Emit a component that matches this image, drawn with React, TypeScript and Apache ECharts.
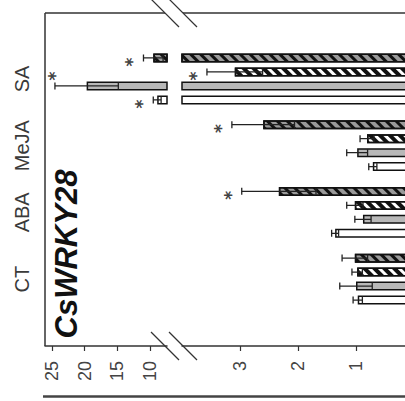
import React, { useEffect, useRef } from "react";
import * as echarts from "echarts";

// Categories bottom -> top
const categories = ["CT", "ABA", "MeJA", "SA"];

// Series values per category [CT, ABA, MeJA, SA]
const darkHatched = [1.02, 2.33, 2.6, 9.5];
const darkHatchedErr = [0.22, 0.64, 0.54, 1.5];
const darkHatchedStar = [0, 1, 1, 1];

const whiteHatched = [0.98, 1.02, 0.81, 3.09];
const whiteHatchedErr = [0.09, 0.14, 0.12, 0.48];
const whiteHatchedStar = [0, 0, 0, 1];

const grayBar = [1.0, 0.88, 0.98, 19.7];
const grayBarErr = [0.28, 0.14, 0.18, 4.85];
const grayBarStar = [0, 0, 0, 1];

const whiteBar = [0.97, 1.36, 0.71, 8.9];
const whiteBarErr = [0.08, 0.06, 0.07, 0.6];
const whiteBarStar = [0, 0, 0, 1];

const upperTicks = [10, 15, 20, 25];
const lowerTicks = [0, 1, 2, 3];
const title = "CsWRKY28";

const FONT = "Liberation Sans, Arial, sans-serif";

export default function App() {
  const ref = useRef<HTMLDivElement>(null);
  useEffect(() => {
    document.body.style.margin = "0";
    const chart = echarts.init(ref.current!, null, { renderer: "svg" });

    const barW = 9;
    const OFF = [-21, -7, 7, 21];
    const gridTop = 45.6;
    const gridH = 266.8;
    const axisY = 346;
    const axisOffset = axisY - (gridTop + gridH);

    const defs = [
      {
        name: "dark",
        data: darkHatched,
        err: darkHatchedErr,
        star: darkHatchedStar,
        itemStyle: {
          color: "#9a9a9a",
          borderColor: "#111",
          borderWidth: 1.5,
          decal: {
            symbol: "rect",
            symbolSize: 1,
            color: "#111",
            dashArrayX: [1, 0],
            dashArrayY: [3, 4],
            rotation: Math.PI / 4,
          },
        },
      },
      {
        name: "whiteHatched",
        data: whiteHatched,
        err: whiteHatchedErr,
        star: whiteHatchedStar,
        itemStyle: {
          color: "#ffffff",
          borderColor: "#111",
          borderWidth: 1.5,
          decal: {
            symbol: "rect",
            symbolSize: 1,
            color: "#111",
            dashArrayX: [1, 0],
            dashArrayY: [4, 3],
            rotation: Math.PI / 4,
          },
        },
      },
      {
        name: "gray",
        data: grayBar,
        err: grayBarErr,
        star: grayBarStar,
        itemStyle: { color: "#b8b8b8", borderColor: "#111", borderWidth: 1.5 },
      },
      {
        name: "white",
        data: whiteBar,
        err: whiteBarErr,
        star: whiteBarStar,
        itemStyle: { color: "#ffffff", borderColor: "#111", borderWidth: 1.5 },
      },
    ];

    const series: any[] = [];
    [0, 1].forEach((g) => {
      defs.forEach((d) => {
        series.push({
          type: "bar",
          name: d.name,
          xAxisIndex: g,
          yAxisIndex: g,
          data: d.data,
          barWidth: barW,
          barGap: "55%",
          itemStyle: d.itemStyle,
          clip: true,
        });
      });
      defs.forEach((d, si) => {
        series.push({
          type: "custom",
          xAxisIndex: g,
          yAxisIndex: g,
          clip: true,
          z: 10,
          encode: { x: 1, y: 0 },
          data: d.data.map((v, i) => [i, v, d.err[i], d.star[i]]),
          renderItem: (params: any, api: any) => {
            const cat = api.value(0);
            const v = api.value(1);
            const e = api.value(2);
            const s = api.value(3);
            const cs = params.coordSys;
            const left = cs.x;
            const right = cs.x + cs.width;
            const c = api.coord([v, cat]);
            const y = c[1] + OFF[si];
            const hi = api.coord([v + e, cat])[0];
            const lo = api.coord([v - e, cat])[0];
            if (Math.max(hi, lo) < left || Math.min(hi, lo) > right) return null;
            const cap = 3.5;
            const st = { stroke: "#222", lineWidth: 1.3 };
            const children: any[] = [
              { type: "line", shape: { x1: lo, y1: y, x2: hi, y2: y }, style: st },
              { type: "line", shape: { x1: hi, y1: y - cap, x2: hi, y2: y + cap }, style: st },
              { type: "line", shape: { x1: lo, y1: y - cap, x2: lo, y2: y + cap }, style: st },
            ];
            if (s && hi >= left && hi <= right) {
              let sx = hi - 11;
              let sy = y + 4;
              if (sx < left + 6) {
                sx = hi;
                sy = y - 10;
              }
              children.push({
                type: "text",
                x: sx,
                y: sy,
                rotation: Math.PI / 2,
                style: {
                  text: "*",
                  font: "bold 17px DejaVu Sans",
                  fill: "#444",
                  align: "center",
                  verticalAlign: "middle",
                },
              });
            }
            return { type: "group", children };
          },
        });
      });
    });

    const labelStyle = {
      rotate: 90,
      fontSize: 18,
      color: "#444",
      fontFamily: FONT,
      margin: 15,
    };

    const lineSt = { stroke: "#333", lineWidth: 1.5 };
    const breakSt = { stroke: "#333", lineWidth: 1.2 };

    chart.setOption({
      animation: false,
      grid: [
        { left: 45, width: 122, top: gridTop, height: gridH, containLabel: false, outerBoundsMode: "none" },
        { left: 182, width: 232, top: gridTop, height: gridH, containLabel: false, outerBoundsMode: "none" },
      ],
      xAxis: [
        {
          type: "value",
          gridIndex: 0,
          inverse: true,
          min: 7.4,
          max: 26.07,
          offset: axisOffset,
          splitLine: { show: false },
          axisLine: { show: true, lineStyle: { color: "#333", width: 1.5 } },
          axisTick: {
            show: true,
            length: 5,
            customValues: upperTicks,
            lineStyle: { color: "#333", width: 1.2 },
          },
          axisLabel: { ...labelStyle, customValues: upperTicks },
        },
        {
          type: "value",
          gridIndex: 1,
          inverse: true,
          min: 0,
          max: 4,
          offset: axisOffset,
          splitLine: { show: false },
          axisLine: { show: true, lineStyle: { color: "#333", width: 1.5 } },
          axisTick: {
            show: true,
            length: 5,
            customValues: lowerTicks,
            lineStyle: { color: "#333", width: 1.2 },
          },
          axisLabel: { ...labelStyle, customValues: lowerTicks },
        },
      ],
      yAxis: [
        {
          type: "category",
          gridIndex: 0,
          data: categories,
          axisLine: { show: false },
          axisTick: { show: false },
          axisLabel: {
            rotate: 90,
            fontSize: 20,
            color: "#3a3a3a",
            fontFamily: FONT,
            margin: 13,
          },
        },
        {
          type: "category",
          gridIndex: 1,
          data: categories,
          show: false,
        },
      ],
      graphic: [
        { type: "line", shape: { x1: 45, y1: 13, x2: 45, y2: axisY }, style: lineSt },
        { type: "line", shape: { x1: 45, y1: 13, x2: 165, y2: 13 }, style: lineSt },
        { type: "line", shape: { x1: 183, y1: 13, x2: 405, y2: 13 }, style: lineSt },
        { type: "line", shape: { x1: 151, y1: -1, x2: 179, y2: 27 }, style: breakSt },
        { type: "line", shape: { x1: 169, y1: -1, x2: 197, y2: 27 }, style: breakSt },
        { type: "line", shape: { x1: 151, y1: 332, x2: 179, y2: 360 }, style: breakSt },
        { type: "line", shape: { x1: 169, y1: 332, x2: 197, y2: 360 }, style: breakSt },
        { type: "line", shape: { x1: 43, y1: 396.5, x2: 405, y2: 396.5 }, style: { stroke: "#444", lineWidth: 2.5 } },
        {
          type: "text",
          x: 66,
          y: 254,
          rotation: Math.PI / 2,
          style: {
            text: title,
            font: "italic bold 31px Liberation Sans",
            fill: "#111",
            align: "center",
            verticalAlign: "middle",
          },
        },
      ],
      series,
    });

    return () => chart.dispose();
  }, []);

  return <div ref={ref} style={{ width: 405, height: 401 }} />;
}
